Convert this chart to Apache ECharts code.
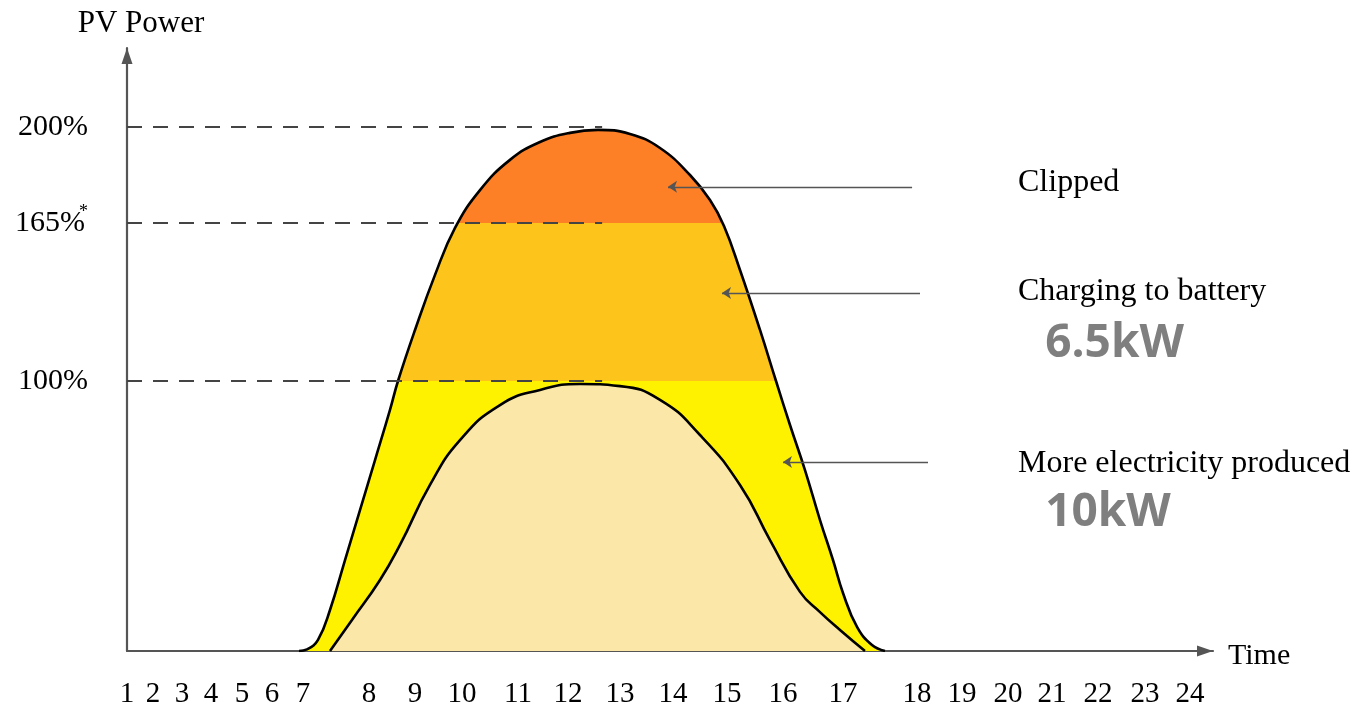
<!DOCTYPE html>
<html>
<head>
<meta charset="utf-8">
<script src="https://cdn.jsdelivr.net/npm/echarts@6/dist/echarts.min.js"></script>
<style>
html,body{margin:0;padding:0;background:#fff;}
#chart{width:1363px;height:707px;}
</style>
</head>
<body>
<div id="chart"></div>
<script>
// ---- data (schematic units) ----
const xTickLabels = ['1','2','3','4','5','6','7','8','9','10','11','12','13','14','15','16','17','18','19','20','21','22','23','24'];
const xTickPos = [0, 0.575, 1.215, 1.856, 2.541, 3.204, 3.890, 5.348, 6.365, 7.403, 8.641, 9.746, 10.895, 12.066, 13.260, 14.497, 15.823, 17.459, 18.453, 19.470, 20.442, 21.459, 22.497, 23.492];

const yTickLabels = ['100%', '165%', '200%'];
const yTickPos = [100, 158.6, 194.1];
const yTickMark = ['', '*', ''];

// outer PV curve (oversized array)
const outerX = [3.80, 3.978, 4.221, 4.486, 4.818, 5.149, 5.481, 5.812, 5.989, 6.365, 6.807, 7.249, 7.801, 8.464, 9.127, 9.790, 10.409, 11.116, 11.779, 12.442, 12.884, 13.193, 13.547, 13.989, 14.343, 14.652, 14.983, 15.315, 15.602, 15.823, 16.133, 16.464, 16.751];
const outerY = [0, 0.6, 4.1, 15.2, 33.7, 52.2, 70.7, 89.3, 100, 118.9, 139.3, 156.7, 170.7, 181.9, 188.5, 191.9, 193.0, 191.5, 186.3, 176.3, 167.0, 157.4, 141.1, 118.9, 100, 83.7, 67.0, 48.5, 33.7, 21.5, 8.9, 2.2, 0];

// inner curve (100% inverter output)
const innerX = [4.486, 4.972, 5.591, 6.033, 6.696, 7.359, 8.243, 9.127, 10.011, 10.895, 11.779, 12.663, 13.547, 14.210, 14.873, 15.315, 15.757, 16.309];
const innerY = [0, 11.5, 26.3, 39.3, 61.5, 78.1, 91.1, 96.7, 98.9, 98.1, 93.0, 80.0, 61.5, 41.1, 21.9, 14.4, 7.8, 0];

const bandLimits = [100, 158.6];
const bandColors = ['#FFF200', '#FDC41C', '#FD7F26'];
const innerColor = '#FBE8A8';

const dashLevels = [100, 158.6, 194.1];
const dashEndX = 10.5;

const noteTexts = ['Clipped', 'Charging to battery', 'More electricity produced'];
const noteY = [173.3, 133.0, 69.3];
const noteX = 19.69;
const arrowY = [171.9, 132.6, 70.0];
const arrowFromX = [17.35, 17.525, 17.702];
const arrowToX = [11.956, 13.149, 14.497];

const kwTexts = ['6.5kW', '10kW'];
const kwY = [113.7, 51.1];
const kwX = 20.29;

// ---- build ----
const outerData = outerX.map((x, i) => [x, outerY[i]]);
const innerData = innerX.map((x, i) => [x, innerY[i]]);

const dashLines = dashLevels.map(v => [
  { coord: [0, v], symbol: 'none' },
  { coord: [dashEndX, v], symbol: 'none' }
]);
const arrowLines = arrowY.map((y, i) => [
  { coord: [arrowFromX[i], y], symbol: 'none' },
  { coord: [arrowToX[i], y], symbol: 'arrow', symbolSize: 9 }
]);

const serif = '"Liberation Serif", "Times New Roman", serif';

const noteData = noteTexts.map((t, i) => ({
  value: [noteX, noteY[i]], name: t,
  label: { fontFamily: serif, fontSize: 32, color: '#000' }
})).concat(kwTexts.map((t, i) => ({
  value: [kwX, kwY[i]], name: t,
  label: { fontFamily: '"Open Sans", "DejaVu Sans", sans-serif', fontWeight: 'bold', fontSize: 46, color: '#7F7F7F' }
})));

function nearestIdx(arr, v) {
  let best = 0, d = Infinity;
  arr.forEach((a, i) => { const dd = Math.abs(a - v); if (dd < d) { d = dd; best = i; } });
  return best;
}

const axisLineStyle = { color: '#555', width: 2.2 };

const chart = echarts.init(document.getElementById('chart'), null, { renderer: 'canvas' });
chart.setOption({
  animation: false,
  backgroundColor: '#fff',
  grid: { left: 127, right: 150, top: 48, bottom: 56, containLabel: false, outerBoundsMode: 'none' },
  xAxis: {
    type: 'value', min: 0, max: 24,
    name: '{t|Time}', nameLocation: 'end', nameGap: 15,
    nameTextStyle: {
      fontFamily: serif, fontSize: 30, color: '#000',
      rich: { t: { fontFamily: serif, fontSize: 30, color: '#000', padding: [10, 0, 0, 0] } }
    },
    axisLine: { show: true, onZero: false, symbol: ['none', 'triangle'], symbolSize: [11, 16], symbolOffset: [0, -8], lineStyle: axisLineStyle },
    axisTick: { show: false },
    splitLine: { show: false },
    axisLabel: {
      customValues: xTickPos,
      margin: 29,
      fontFamily: serif, fontSize: 29, color: '#000',
      formatter: v => xTickLabels[nearestIdx(xTickPos, v)]
    }
  },
  yAxis: {
    type: 'value', min: 0, max: 223.33,
    name: 'PV Power', nameLocation: 'end', nameGap: 9,
    nameTextStyle: { fontFamily: serif, fontSize: 31, color: '#000', padding: [0, 0, 0, 28] },
    axisLine: { show: true, onZero: false, symbol: ['none', 'triangle'], symbolSize: [11, 16], symbolOffset: [0, -8], lineStyle: axisLineStyle },
    axisTick: { show: false },
    splitLine: { show: false },
    axisLabel: {
      customValues: yTickPos,
      margin: 39,
      fontFamily: serif, fontSize: 30, color: '#000',
      formatter: v => {
        const i = nearestIdx(yTickPos, v);
        return yTickMark[i] ? '{n|' + yTickLabels[i] + '}{s|' + yTickMark[i] + '}' : yTickLabels[i];
      },
      rich: {
        n: { fontFamily: serif, fontSize: 30, color: '#000', padding: [0, 3, 0, 0] },
        s: { fontFamily: serif, fontSize: 18, color: '#000', width: 0.1, padding: [0, 0, 22, 0] }
      }
    }
  },
  visualMap: {
    show: false, type: 'piecewise', dimension: 1, seriesIndex: 0,
    pieces: [
      { lt: bandLimits[0], color: bandColors[0] },
      { gte: bandLimits[0], lt: bandLimits[1], color: bandColors[1] },
      { gte: bandLimits[1], color: bandColors[2] }
    ]
  },
  series: [
    {
      type: 'line', name: 'PV output', data: outerData,
      showSymbol: false, smooth: 0.45,
      lineStyle: { color: '#000', width: 2.6 },
      areaStyle: { opacity: 1 },
      z: 2
    },
    {
      type: 'line', name: 'Inverter output', data: innerData,
      showSymbol: false, smooth: 0.5,
      itemStyle: { color: '#000' },
      lineStyle: { color: '#000', width: 2.6 },
      areaStyle: { color: innerColor, opacity: 1 },
      z: 3,
      markLine: {
        silent: true, animation: false,
        label: { show: false },
        data: dashLines.map(d => [
          Object.assign({}, d[0], { lineStyle: { type: [15, 11], color: '#444', width: 2.2 } }),
          d[1]
        ]).concat(arrowLines.map(d => [
          Object.assign({}, d[0], { lineStyle: { type: 'solid', color: '#555', width: 1.3 } }),
          d[1]
        ]))
      }
    },
    {
      type: 'scatter', name: 'notes', data: noteData,
      symbolSize: 0.1, itemStyle: { color: 'transparent', opacity: 1 },
      label: { show: true, position: 'right', distance: 0, opacity: 1, formatter: p => p.name },
      z: 5, silent: true
    }
  ]
});
</script>
</body>
</html>
